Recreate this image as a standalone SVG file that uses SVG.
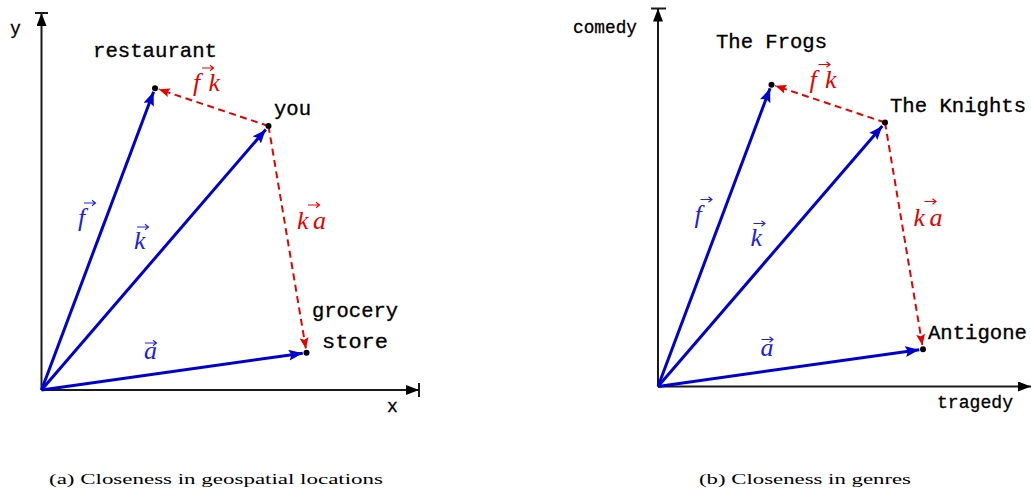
<svg xmlns="http://www.w3.org/2000/svg" width="1031" height="492" viewBox="0 0 1031 492">
<style>
.ax{stroke:#1a1a1a;stroke-width:2;fill:none}
.bl{stroke:#0000d0;stroke-width:3;fill:none;marker-end:url(#hb)}
.rd{stroke:#e60000;stroke-width:2;fill:none;stroke-dasharray:7 4.5;marker-end:url(#hr)}
.tt{font-family:"Liberation Mono","DejaVu Sans Mono",monospace;font-size:21px;fill:#000;stroke:#000;stroke-width:0.35}
.ta{font-family:"Liberation Mono","DejaVu Sans Mono",monospace;font-size:18px;fill:#000;stroke:#000;stroke-width:0.3}
.mb{font-family:"Liberation Serif",serif;font-style:italic;font-size:26px;fill:#2020e0}
.mr{font-family:"Liberation Serif",serif;font-style:italic;font-size:26px;fill:#e60000}
.cap{font-family:"Liberation Serif",serif;font-size:15px;fill:#000}
.dot{fill:#000}
</style>
<defs>
<marker id="hb" markerUnits="userSpaceOnUse" markerWidth="16" markerHeight="12" refX="14" refY="5.5" orient="auto"><path d="M0,0 L14,5.5 L0,11 L2.5,5.5 z" fill="#0000d0"/></marker>
<marker id="hr" markerUnits="userSpaceOnUse" markerWidth="12" markerHeight="10" refX="11" refY="4.5" orient="auto"><path d="M0,0 L11,4.5 L0,9 L2,4.5 z" fill="#e60000"/></marker>
<marker id="ha" markerUnits="userSpaceOnUse" markerWidth="14" markerHeight="12" refX="13" refY="5" orient="auto"><path d="M0,0 L13,5 L0,10 z" fill="#000"/></marker>
<g id="vec"><path d="M0,0 H11 M8,-2.8 L11.5,0 L8,2.8" fill="none" stroke-width="1.1"/></g>
</defs>

<!-- Panel (a) -->
<g id="axes-a">
<path class="ax" d="M41.5,390 V13" marker-end="url(#ha)"/>
<path class="ax" d="M35,13 H48"/>
<path class="ax" d="M41.5,390 H419" marker-end="url(#ha)"/>
<path class="ax" d="M419,383 V397"/>
<text class="ta" x="10" y="34">y</text>
<text class="ta" x="387" y="412">x</text>
</g>
<g id="connectors-a">
<path class="bl" d="M41.5,390 L153.6,91.7"/>
<path class="bl" d="M41.5,390 L265.8,129.4"/>
<path class="bl" d="M41.5,390 L302.8,353.2"/>
<path class="rd" d="M268.5,126 L158.8,89.3"/>
<path class="rd" d="M268.5,126 L305.9,348.7"/>
<text class="mb" x="78" y="226">f</text><use href="#vec" x="84" y="203" stroke="#2020e0"/>
<text class="mb" x="134" y="249">k</text><use href="#vec" x="137" y="227" stroke="#2020e0"/>
<text class="mb" x="144" y="359">a</text><use href="#vec" x="145" y="343" stroke="#2020e0"/>
<text class="mr" x="193" y="91" textLength="27" lengthAdjust="spacing">fk</text><use href="#vec" x="202" y="68" stroke="#e60000"/>
<text class="mr" x="297" y="229" textLength="29" lengthAdjust="spacing">ka</text><use href="#vec" x="308" y="205" stroke="#e60000"/>
</g>
<g id="restaurant"><circle class="dot" cx="155" cy="88.3" r="3"/><text class="tt" x="93" y="57" textLength="124" lengthAdjust="spacingAndGlyphs">restaurant</text></g>
<g id="you"><circle class="dot" cx="268.5" cy="126" r="3"/><text class="tt" x="274" y="115" textLength="37" lengthAdjust="spacingAndGlyphs">you</text></g>
<g id="grocery-store"><circle class="dot" cx="306.5" cy="352.7" r="3"/><text class="tt" x="312" y="317" textLength="86" lengthAdjust="spacingAndGlyphs">grocery</text><text class="tt" x="322" y="348" textLength="66" lengthAdjust="spacingAndGlyphs">store</text></g>
<text class="cap" x="49" y="484" textLength="334" lengthAdjust="spacingAndGlyphs">(a) Closeness in geospatial locations</text>

<!-- Panel (b) -->
<g id="axes-b">
<path class="ax" d="M658,386.5 V8.5" marker-end="url(#ha)"/>
<path class="ax" d="M651,8.5 H666"/>
<path class="ax" d="M658,386.5 H1031" marker-end="url(#ha)"/>
<text class="ta" x="573" y="33" textLength="64" lengthAdjust="spacingAndGlyphs">comedy</text>
<text class="ta" x="937" y="408" textLength="76" lengthAdjust="spacingAndGlyphs">tragedy</text>
</g>
<g transform="translate(616.5,-3.5)">
<g id="connectors-b">
<path class="bl" d="M41.5,390 L153.6,91.7"/>
<path class="bl" d="M41.5,390 L265.8,129.4"/>
<path class="bl" d="M41.5,390 L302.8,353.2"/>
<path class="rd" d="M268.5,126 L158.8,89.3"/>
<path class="rd" d="M268.5,126 L305.9,348.7"/>
<text class="mb" x="78" y="226">f</text><use href="#vec" x="84" y="203" stroke="#2020e0"/>
<text class="mb" x="134" y="249">k</text><use href="#vec" x="137" y="227" stroke="#2020e0"/>
<text class="mb" x="144" y="359">a</text><use href="#vec" x="145" y="343" stroke="#2020e0"/>
<text class="mr" x="193" y="91" textLength="27" lengthAdjust="spacing">fk</text><use href="#vec" x="202" y="68" stroke="#e60000"/>
<text class="mr" x="297" y="229" textLength="29" lengthAdjust="spacing">ka</text><use href="#vec" x="308" y="205" stroke="#e60000"/>
</g>
<g id="the-frogs"><circle class="dot" cx="155" cy="88.3" r="3"/></g>
<g id="the-knights"><circle class="dot" cx="268.5" cy="126" r="3"/></g>
<g id="antigone"><circle class="dot" cx="306.5" cy="352.7" r="3"/></g>
</g>
<text class="tt" x="716" y="48" textLength="111" lengthAdjust="spacingAndGlyphs">The Frogs</text>
<text class="tt" x="890" y="112" textLength="136" lengthAdjust="spacingAndGlyphs">The Knights</text>
<text class="tt" x="928" y="339" textLength="99" lengthAdjust="spacingAndGlyphs">Antigone</text>
<text class="cap" x="699" y="484" textLength="212" lengthAdjust="spacingAndGlyphs">(b) Closeness in genres</text>
</svg>
